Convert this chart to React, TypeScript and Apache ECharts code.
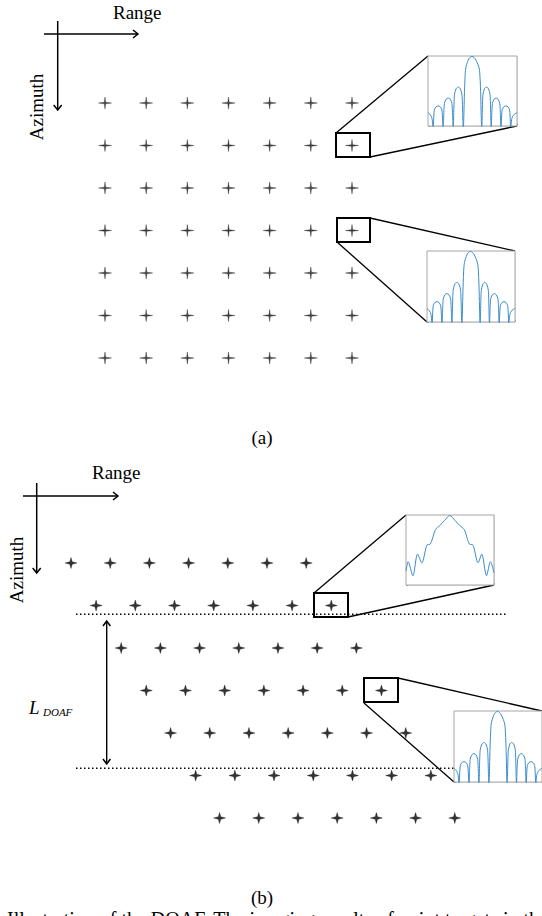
import React, { useEffect, useRef } from "react";
import * as echarts from "echarts";

// ---- Data ----
// Panel (a): focused point targets (range bin, azimuth bin)
const rangeBinsA = [0, 1, 2, 3, 4, 5, 6];
const azimuthBinsA = [0, 1, 2, 3, 4, 5, 6];
// Panel (b): point targets with a range shift per azimuth row
const rangeBinsB = [0, 1, 2, 3, 4, 5, 6];
const azimuthBinsB = [0, 1, 2, 3, 4, 5, 6];
const rowShiftB = [0, 0.64, 1.28, 1.92, 2.54, 3.18, 3.79];

// Azimuth profile of a well-focused target (inset plots)
const focusedX = [0, 0.25, 0.45, 0.57, 0.71, 0.91, 1.13, 1.36, 1.56, 1.7, 1.84, 2.04, 2.26, 2.49, 2.69, 2.83, 2.97, 3.17, 3.4, 3.62, 3.82, 3.96, 4.21, 4.57, 4.95, 5.33, 5.79, 6.04, 6.17, 6.36, 6.57, 6.78, 6.97, 7.1, 7.23, 7.43, 7.65, 7.87, 8.07, 8.2, 8.33, 8.53, 8.75, 8.97, 9.17, 9.3, 9.42, 9.65, 10];
const focusedY = [1.14, 0.98, 0.65, -0.2, 1.38, 1.65, 1.72, 1.65, 1.38, -0.2, 1.92, 2.3, 2.4, 2.3, 1.92, -0.2, 2.67, 3.21, 3.34, 3.21, 2.67, -0.2, 4.78, 5.73, 5.97, 5.73, 4.78, -0.2, 2.67, 3.21, 3.34, 3.21, 2.67, -0.2, 1.92, 2.3, 2.4, 2.3, 1.92, -0.2, 1.38, 1.65, 1.72, 1.65, 1.38, -0.2, 0.65, 0.98, 1.14];
// Azimuth profile of a defocused target (edge of DOAF)
const defocusedX = [0, 0.25, 0.78, 1.32, 1.8, 2.4, 2.75, 3.35, 3.85, 4.4, 4.98, 5.55, 6.1, 6.62, 7.22, 7.58, 8.2, 8.6, 9.15, 9.6, 10];
const defocusedY = [1.2, 2.0, 0.8, 2.65, 1.9, 3.45, 3.5, 4.75, 5.1, 5.55, 5.95, 5.55, 5.1, 4.75, 3.5, 3.45, 1.9, 2.65, 0.8, 2.0, 1.05];

const SERIF = "'Liberation Serif', 'Times New Roman', serif";
const STAR_A = "path://M12,0L13.2,8.6L24,10L13.2,11.4L12,20L10.8,11.4L0,10L10.8,8.6Z";
const STAR_B = "path://M12,0L14.4,7.6L24,10L14.4,12.4L12,20L9.6,12.4L0,10L9.6,7.6Z";

const zip = (xs: number[], ys: number[]) => xs.map((x, i) => [x, ys[i]]);

export default function App() {
  const ref = useRef<HTMLDivElement>(null);

  useEffect(() => {
    if (!ref.current) return;
    const chart = echarts.init(ref.current, undefined, { renderer: "svg" });

    const pointsA: number[][] = [];
    azimuthBinsA.forEach((az) => rangeBinsA.forEach((r) => pointsA.push([r, az])));
    const pointsB: number[][] = [];
    azimuthBinsB.forEach((az, i) => rangeBinsB.forEach((r) => pointsB.push([r + rowShiftB[i], az])));

    const insetGrids = [
      { left: 428, top: 56, width: 89, height: 70 },
      { left: 427, top: 251, width: 88, height: 71 },
      { left: 406, top: 515, width: 88, height: 70 },
      { left: 454, top: 711, width: 88, height: 71 },
    ];
    const insetProfiles = [
      zip(focusedX, focusedY),
      zip(focusedX, focusedY),
      zip(defocusedX, defocusedY),
      zip(focusedX, focusedY),
    ];

    const hiddenAxis = (min: number, max: number, inverse = false) => ({
      type: "value", min, max, inverse, show: false,
    });

    const insetX = (gi: number) => ({
      type: "value", gridIndex: gi, min: 0, max: 10, interval: 1,
      axisLabel: { show: false }, axisLine: { show: false },
      axisTick: { show: true, inside: true, length: 2, lineStyle: { color: "#999" } },
      splitLine: { show: true, lineStyle: { color: "#e4e4e4", width: 1 } },
    });
    const insetY = (gi: number) => ({
      type: "value", gridIndex: gi, min: 0, max: 6, interval: 1,
      axisLabel: { show: false }, axisLine: { show: false },
      axisTick: { show: true, inside: true, length: 2, lineStyle: { color: "#999" } },
      splitLine: { show: true, lineStyle: { color: "#e4e4e4", width: 1 } },
    });

    const line = (x1: number, y1: number, x2: number, y2: number, w = 1.3, extra: any = {}) => ({
      type: "line", shape: { x1, y1, x2, y2 }, style: { stroke: "#000", lineWidth: w, ...extra }, z: 1,
    });
    const head = (pts: number[][]) => ({
      type: "polyline", shape: { points: pts }, style: { stroke: "#000", fill: "none", lineWidth: 1.5 }, z: 1,
    });
    const rect = (x: number, y: number, w: number, h: number) => ({
      type: "rect", shape: { x, y, width: w, height: h }, style: { stroke: "#000", fill: "none", lineWidth: 2 }, z: 3,
    });
    const txt = (x: number, y: number, text: string, size: number, extra: any = {}) => ({
      type: "text", x, y, z: 3,
      style: { text, fill: "#000", font: `${size}px ${SERIF}`, align: "left", verticalAlign: "middle", ...extra },
    });

    const graphics: any[] = [
      // panel (a) axes
      line(44, 34, 138, 34, 1.5),
      head([[133, 30], [138, 34], [133, 38]]),
      line(57.7, 21, 57.7, 110, 1.5),
      head([[53.7, 105], [57.7, 110], [61.7, 105]]),
      txt(113, 12, "Range", 19),
      { ...txt(36, 107, "Azimuth", 19, { align: "center" }), rotation: Math.PI / 2 },
      txt(262, 437, "(a)", 19, { align: "center" }),
      // panel (a) zoom boxes
      rect(336, 133, 34, 24),
      line(336, 133, 428, 56, 1.3),
      line(370, 157, 517, 126, 1.3),
      rect(337, 218, 33, 24),
      line(370, 218, 515, 251, 1.3),
      line(337, 242, 427, 322, 1.3),
      // panel (b) axes
      line(23, 496, 118, 496, 1.5),
      head([[113, 492], [118, 496], [113, 500]]),
      line(36.7, 483, 36.7, 573, 1.5),
      head([[32.7, 568], [36.7, 573], [40.7, 568]]),
      txt(92, 472, "Range", 19),
      { ...txt(16, 570, "Azimuth", 19, { align: "center" }), rotation: Math.PI / 2 },
      // DOAF extent
      line(76, 614.3, 507, 614.3, 1.6, { lineDash: [1.5, 2.5] }),
      line(76, 768.3, 454, 768.3, 1.6, { lineDash: [1.5, 2.5] }),
      line(106.7, 622, 106.7, 763, 1.4),
      head([[103, 626], [106.7, 621], [110.4, 626]]),
      head([[103, 759], [106.7, 764], [110.4, 759]]),
      txt(29, 707, "L", 19, { font: `italic 19px ${SERIF}` }),
      txt(43, 712, "DOAF", 11, { font: `italic 11px ${SERIF}` }),
      // panel (b) zoom boxes
      rect(314, 593, 34, 24),
      line(314, 593, 406, 515, 1.3),
      line(348, 617, 494, 585, 1.3),
      rect(364, 678, 34, 24),
      line(398, 678, 542, 711, 1.3),
      line(364, 703, 454, 782, 1.3),
      txt(262, 897, "(b)", 19, { align: "center" }),
      txt(7, 918.5, "Illustration of the DOAF. The imaging results of point targets in the final image are shown.", 20),
    ];

    const option: any = {
      animation: false,
      backgroundColor: "#fff",
      grid: [
        { left: 105, top: 103, width: 247, height: 255, show: false },
        { left: 71, top: 563, width: 392, height: 255, show: false },
        ...insetGrids.map((g) => ({ ...g, show: true, borderColor: "#a6a6a6", borderWidth: 1, backgroundColor: "#fff", z: 4 })),
      ],
      xAxis: [
        { ...hiddenAxis(0, 6), gridIndex: 0 },
        { ...hiddenAxis(0, 10), gridIndex: 1 },
        insetX(2), insetX(3), insetX(4), insetX(5),
      ],
      yAxis: [
        { ...hiddenAxis(0, 6, true), gridIndex: 0 },
        { ...hiddenAxis(0, 6, true), gridIndex: 1 },
        insetY(2), insetY(3), insetY(4), insetY(5),
      ],
      series: [
        {
          type: "scatter", xAxisIndex: 0, yAxisIndex: 0, data: pointsA, clip: false,
          symbol: STAR_A, symbolSize: [13, 12], silent: true,
          itemStyle: { color: "#111", borderColor: "#111", borderWidth: 0.4 },
        },
        {
          type: "scatter", xAxisIndex: 1, yAxisIndex: 1, data: pointsB, clip: false,
          symbol: STAR_B, symbolSize: [12, 11], silent: true,
          itemStyle: { color: "#000", borderColor: "#000", borderWidth: 0.4 },
        },
        ...insetProfiles.map((d, i) => ({
          type: "line", xAxisIndex: i + 2, yAxisIndex: i + 2, data: d, showSymbol: false,
          smooth: 0.3, clip: true, z: 5,
          lineStyle: { color: "#3b8ccc", width: 1 },
        })),
      ],
      graphic: graphics,
    };

    chart.setOption(option);
    return () => chart.dispose();
  }, []);

  return (
    <div
      ref={ref}
      style={{ position: "absolute", left: 0, top: 0, width: 542, height: 916, background: "#fff" }}
    />
  );
}
